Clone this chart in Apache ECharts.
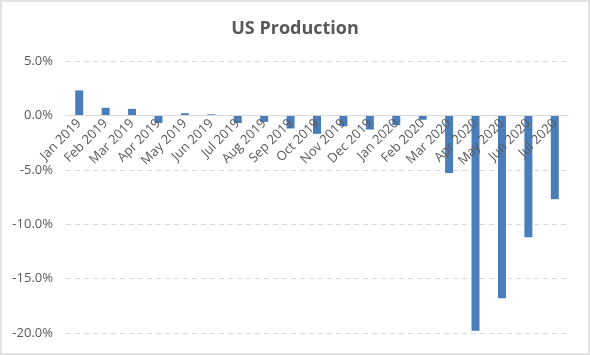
<!DOCTYPE html>
<html><head><meta charset="utf-8">
<script src="https://cdn.jsdelivr.net/npm/echarts@6/dist/echarts.min.js"></script>
<style>
html,body{margin:0;padding:0;background:#fff;}
#c{width:586px;height:351px;border:2px solid #e3e3e3;}
</style></head>
<body><div id="c"></div>
<script>
const categories = ["Jan 2019","Feb 2019","Mar 2019","Apr 2019","May 2019","Jun 2019","Jul 2019","Aug 2019","Sep 2019","Oct 2019","Nov 2019","Dec 2019","Jan 2020","Feb 2020","Mar 2020","Apr 2020","May 2020","Jun 2020","Jul 2020"];
const values = [2.3, 0.7, 0.6, -0.7, 0.2, 0.1, -0.7, -0.6, -1.2, -1.7, -1.0, -1.3, -0.9, -0.4, -5.3, -19.8, -16.8, -11.2, -7.7];
const yTicks = {min: -20, max: 5, interval: 5};

const gridTop = 59, gridBottom = 20, H = 351;
const plotH = H - gridTop - gridBottom;
const zeroOffset = -plotH * (0 - yTicks.min) / (yTicks.max - yTicks.min);

const chart = echarts.init(document.getElementById('c'));
chart.setOption({
  animation: false,
  title: {text: 'US Production', left: 'center', top: 13,
    textStyle: {fontFamily: 'Open Sans', fontWeight: 'bold', fontSize: 18, color: '#595959'}},
  grid: {left: 64, right: 20, top: gridTop, bottom: gridBottom, containLabel: false, outerBoundsMode: 'none'},
  xAxis: {type: 'category', data: categories, position: 'bottom', offset: zeroOffset, zlevel: 1, z: 10,
    axisLine: {onZero: false, lineStyle: {color: '#d9d9d9', width: 1}},
    axisTick: {show: false},
    axisLabel: {rotate: 45, interval: 0, color: '#595959', fontSize: 13, fontFamily: 'Open Sans', margin: 6}
  },
  yAxis: {type: 'value', min: yTicks.min, max: yTicks.max, interval: yTicks.interval,
    axisLine: {show: false}, axisTick: {show: false},
    axisLabel: {formatter: v => v.toFixed(1) + '%', color: '#595959', fontSize: 13, fontFamily: 'Open Sans', margin: 13},
    splitLine: {lineStyle: {color: '#d9d9d9', type: [5, 4]}}
  },
  series: [{type: 'bar', data: values, barWidth: 8,
    itemStyle: {color: '#4a7ebb'}}]
});
</script></body></html>
